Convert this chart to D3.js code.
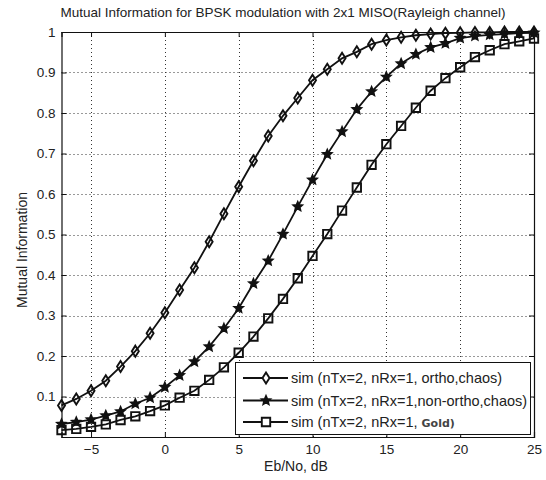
<!DOCTYPE html>
<html>
<head>
<meta charset="utf-8">
<script src="https://cdn.jsdelivr.net/npm/d3@7"></script>
<style>
  html, body { margin: 0; padding: 0; background: #fff; }
  text { font-family: "Liberation Sans", Arial, sans-serif; fill: #222; }
</style>
</head>
<body>
<svg id="chart" width="546" height="480"></svg>
<script>
const ebno = [-7,-6,-5,-4,-3,-2,-1,0,1,2,3,4,5,6,7,8,9,10,11,12,13,14,15,16,17,18,19,20,21,22,23,24,25];
const orthoChaos = [0.078,0.094,0.114,0.139,0.174,0.212,0.256,0.307,0.363,0.418,0.482,0.551,0.618,0.682,0.743,0.793,0.837,0.881,0.908,0.935,0.951,0.970,0.980,0.987,0.992,0.995,0.997,0.998,0.999,0.999,1.0,1.0,1.0];
const nonOrthoChaos = [0.032,0.037,0.043,0.053,0.063,0.082,0.097,0.123,0.152,0.186,0.223,0.268,0.318,0.379,0.435,0.501,0.569,0.635,0.698,0.754,0.809,0.853,0.889,0.922,0.945,0.962,0.972,0.985,0.990,0.993,0.995,0.997,0.998];
const gold = [0.017,0.020,0.025,0.031,0.042,0.051,0.064,0.078,0.097,0.114,0.141,0.172,0.208,0.248,0.293,0.341,0.392,0.447,0.501,0.559,0.616,0.672,0.723,0.768,0.813,0.855,0.886,0.913,0.938,0.955,0.970,0.977,0.984];
const xTicks = [-5,0,5,10,15,20,25];
const yTicks = [0.1,0.2,0.3,0.4,0.5,0.6,0.7,0.8,0.9,1];
const seriesNames = ["sim (nTx=2, nRx=1, ortho,chaos)", "sim (nTx=2, nRx=1,non-ortho,chaos)", "sim (nTx=2, nRx=1, "];
const goldSuffix = "Gold)";
const titleText = "Mutual Information for BPSK modulation with 2x1 MISO(Rayleigh channel)";
const xLabel = "Eb/No, dB";
const yLabel = "Mutual Information";

const L = 61.5, R = 534, T = 32, B = 437;
const svg = d3.select("#chart");
const x = d3.scaleLinear().domain([-7, 25]).range([L, R]);
const y = d3.scaleLinear().domain([0, 1]).range([B, T]);

svg.append("rect").attr("x", L).attr("y", T).attr("width", R - L).attr("height", B - T).attr("fill", "#fff");

// grid
const grid = svg.append("g").attr("stroke", "#333").attr("stroke-width", 1).attr("stroke-dasharray", "1,3");
grid.selectAll(".gx").data(xTicks.filter(d => d < 25)).enter().append("line")
  .attr("x1", d => Math.round(x(d)) + 0.5).attr("x2", d => Math.round(x(d)) + 0.5).attr("y1", T).attr("y2", B);
grid.selectAll(".gy").data(yTicks.filter(d => d < 1)).enter().append("line")
  .attr("y1", d => Math.round(y(d)) + 0.5).attr("y2", d => Math.round(y(d)) + 0.5).attr("x1", L).attr("x2", R);

// axes
const fmtY = d => (d === 1 ? "1" : d3.format(".1f")(d));
const axB = svg.append("g").attr("transform", `translate(0,${B})`)
  .call(d3.axisBottom(x).tickValues(xTicks).tickSize(-5).tickPadding(7));
const axT = svg.append("g").attr("transform", `translate(0,${T})`)
  .call(d3.axisTop(x).tickValues(xTicks).tickSize(-5).tickFormat(""));
const axL = svg.append("g").attr("transform", `translate(${L},0)`)
  .call(d3.axisLeft(y).tickValues(yTicks).tickSize(-5).tickPadding(6).tickFormat(fmtY));
const axR = svg.append("g").attr("transform", `translate(${R},0)`)
  .call(d3.axisRight(y).tickValues(yTicks).tickSize(-5).tickFormat(""));
[axB, axT, axL, axR].forEach(g => {
  g.select(".domain").attr("stroke", "#111").attr("stroke-width", 1.2);
  g.selectAll(".tick line").attr("stroke", "#111");
  g.selectAll("text").style("font-family", '"Liberation Sans", Arial, sans-serif').style("font-size", "13.5px").attr("fill", "#222");
});

// marker shapes
function diamondPath(cx, cy) {
  return `M${cx},${cy - 5.5}L${cx + 3.5},${cy}L${cx},${cy + 5.5}L${cx - 3.5},${cy}Z`;
}
function squarePath(cx, cy) {
  const s = 4.2;
  return `M${cx - s},${cy - s}h${2 * s}v${2 * s}h${-2 * s}Z`;
}
function starPath(cx, cy) {
  const ro = 4.4, ri = 2.0;
  let p = "";
  for (let i = 0; i < 10; i++) {
    const r = i % 2 === 0 ? ro : ri;
    const a = -Math.PI / 2 + i * Math.PI / 5;
    p += (i === 0 ? "M" : "L") + (cx + r * Math.cos(a)).toFixed(2) + "," + (cy + r * Math.sin(a)).toFixed(2);
  }
  return p + "Z";
}

const series = [
  { vals: orthoChaos, shape: diamondPath, fill: "none" },
  { vals: nonOrthoChaos, shape: starPath, fill: "#111" },
  { vals: gold, shape: squarePath, fill: "none" }
];

const line = d3.line().x(d => x(d[0])).y(d => y(d[1]));
series.forEach(s => {
  const pts = ebno.map((e, i) => [e, s.vals[i]]);
  svg.append("path").datum(pts).attr("d", line).attr("fill", "none").attr("stroke", "#111").attr("stroke-width", 1.8);
  svg.append("g").selectAll("path").data(pts).enter().append("path")
    .attr("d", d => s.shape(x(d[0]), y(d[1])))
    .attr("fill", s.fill).attr("stroke", "#111").attr("stroke-width", 1.9);
});

// legend
const lg = svg.append("g");
lg.append("rect").attr("x", 235.5).attr("y", 362.5).attr("width", 295).attr("height", 72)
  .attr("fill", "#fff").attr("stroke", "#111").attr("stroke-width", 1);
const rows = [378, 400.5, 422];
series.forEach((s, i) => {
  const cy = rows[i];
  lg.append("line").attr("x1", 243).attr("x2", 288).attr("y1", cy).attr("y2", cy).attr("stroke", "#111").attr("stroke-width", 1.8);
  lg.append("path").attr("d", s.shape(266, cy)).attr("fill", s.fill === "none" ? "#fff" : s.fill).attr("stroke", "#111").attr("stroke-width", 1.9);
  const t = lg.append("text").attr("x", 291).attr("y", cy + 5).style("font-size", "14.5px").text(seriesNames[i]);
  if (i === 2) {
    t.append("tspan").style("font-family", '"DejaVu Sans", sans-serif').style("font-size", "11px").style("font-weight", "bold").attr("fill", "#444").text(goldSuffix);
  }
});

// title and labels
svg.append("text").attr("x", 283).attr("y", 17).attr("text-anchor", "middle").style("font-size", "13.5px").text(titleText);
svg.append("text").attr("x", 296).attr("y", 471).attr("text-anchor", "middle").style("font-size", "14px").text(xLabel);
svg.append("text").attr("transform", `translate(27,250) rotate(-90)`).attr("text-anchor", "middle").style("font-size", "14px").text(yLabel);
</script>
</body>
</html>
